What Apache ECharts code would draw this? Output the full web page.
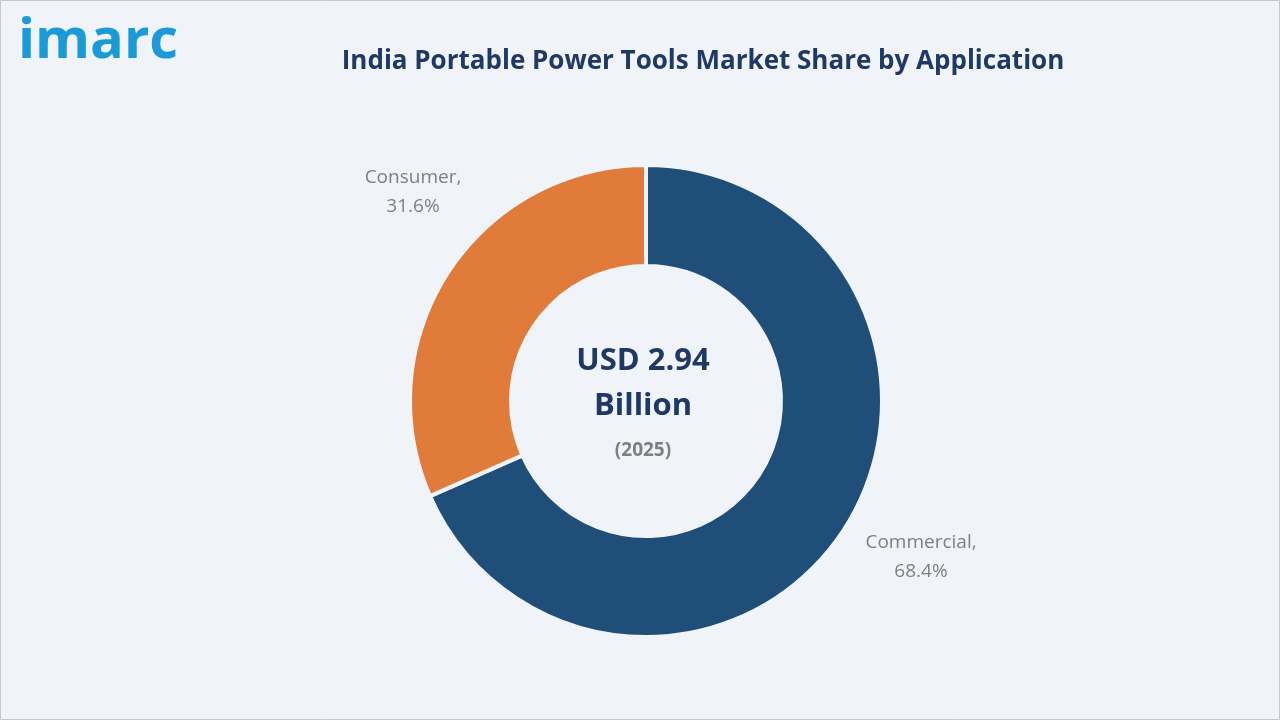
<!DOCTYPE html>
<html><head><meta charset="utf-8">
<script src="https://cdn.jsdelivr.net/npm/echarts@6/dist/echarts.min.js"></script>
<style>html,body{margin:0;padding:0;background:#fff}#c{width:1280px;height:720px}</style>
</head><body><div id="c"></div>
<script>
const categories = ["Commercial", "Consumer"];
const shares = [68.4, 31.6];
const colors = ["#1f4e79", "#e07b39"];
const labelPos = [[921,557],[413,192]];
const chart = echarts.init(document.getElementById('c'));
chart.setOption({
  backgroundColor: '#f0f4f9',
  graphic: [
    {type:'rect', shape:{x:0.5,y:0.5,width:1279,height:719}, style:{fill:'none', stroke:'#c8c8c8', lineWidth:1}},
    {type:'text', x:18, y:14, style:{text:'imarc', font:'bold 56px "Open Sans", sans-serif', fill:'#1a9ad6'}},
    {type:'text', x:643, y:346, style:{text:'USD 2.94', font:'bold 31px "Open Sans", sans-serif', fill:'#1f3864', align:'center'}},
    {type:'text', x:643, y:391, style:{text:'Billion', font:'bold 31px "Open Sans", sans-serif', fill:'#1f3864', align:'center'}},
    {type:'text', x:643, y:441, style:{text:'(2025)', font:'bold 19px "Open Sans", sans-serif', fill:'#7f7f7f', align:'center'}}
  ],
  title: {text:'India Portable Power Tools Market Share by Application', left:698, top:44, textAlign:'center',
    textStyle:{fontFamily:'"Open Sans", sans-serif', fontWeight:'bold', fontSize:26, color:'#1f3864'}},
  series: [{
    type:'pie', center:[646,401], radius:[135,236], startAngle:90, clockwise:true,
    itemStyle:{borderColor:'#f0f4f9', borderWidth:4},
    label:{show:true, position:'outside', formatter:p=>p.name+',\n'+p.value.toFixed(1)+'%',
      color:'#7f7f7f', fontSize:19, fontFamily:'"Open Sans", sans-serif', lineHeight:29, align:'center'},
    labelLine:{show:false},
    labelLayout: p => ({x: labelPos[p.dataIndex][0], y: labelPos[p.dataIndex][1], align:'center', verticalAlign:'middle'}),
    emphasis:{disabled:true},
    data: categories.map((n,i)=>({name:n, value:shares[i], itemStyle:{color:colors[i]}}))
  }]
});
</script></body></html>
